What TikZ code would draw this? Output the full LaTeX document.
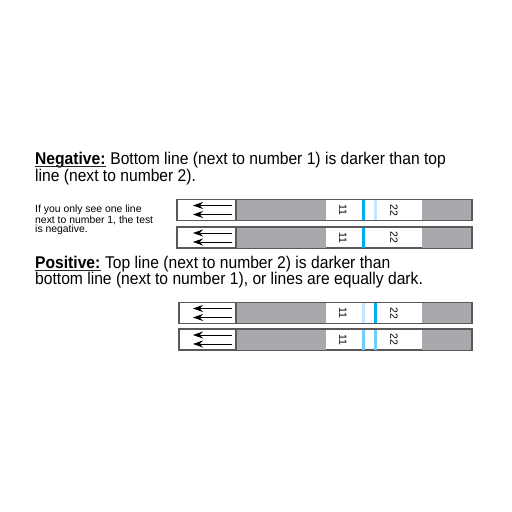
\documentclass[tikz,border=0pt]{standalone}
\usepackage{fontspec}
\setmainfont{Liberation Sans}[FakeStretch=0.92]
\newfontfamily\hintfont{Liberation Sans}
\usepackage{tikz}
\usetikzlibrary{arrows.meta}

\definecolor{stripgray}{HTML}{A7A9AC}
\definecolor{rimgray}{HTML}{58595B}
\definecolor{strongblue}{HTML}{00AEEF}
\definecolor{faintblue}{HTML}{C4E9FA}
\definecolor{mediumblue}{HTML}{6DCFF6}

\tikzset{
	heading/.style={anchor=base west,inner sep=0,font=\fontsize{17}{18}\selectfont},
	hint/.style={anchor=north west,inner sep=0,align=left,font=\hintfont\fontsize{10.4}{9.3}\selectfont},
	keyline/.style={fill=black!85},
	strip/.style={draw=rimgray,line width=1.2pt,fill=white,inner sep=0,minimum height=21pt},
	pad/.style={fill=stripgray,inner sep=0,minimum height=20pt},
	tline/.style={inner sep=0,minimum width=2.2pt,minimum height=20pt},
	digits/.style={rotate=-90,inner sep=0,font=\hintfont\fontsize{10.5}{10.5}\selectfont},
	flow/.style={line width=0.9pt,-{Stealth[length=10pt,width=7pt]}}
}

\begin{document}
\begin{tikzpicture}[x=1pt,y=-1pt]
	\useasboundingbox[fill=white] (0,0) rectangle (512,512);

	% negative result
	\node[heading] (negkey) at (35,164.5) {\textbf{Negative:}};
	\node[heading] (neg1) at (negkey.base east) {\ Bottom line (next to number 1) is darker than top};
	\node[heading] (neg2) at (35,181)   {line (next to number 2).};
	\fill[keyline] ([yshift=-1.8pt]negkey.base west) rectangle ([yshift=-2.9pt]negkey.base east);

	\node[hint] (hint) at (35,205.2) {If you only see one line\\next to number 1, the test\\is negative.};

	% positive result
	\node[heading] (poskey) at (35,268.3) {\textbf{Positive:}};
	\node[heading] (pos1) at (poskey.base east) {\ Top line (next to number 2) is darker than};
	\node[heading] (pos2) at (35,284.8) {bottom line (next to number 1), or lines are equally dark.};
	\fill[keyline] ([yshift=-1.8pt]poskey.base west) rectangle ([yshift=-2.9pt]poskey.base east);

	\foreach \n/\y/\xl/\ca/\cb in {1/210/177/strongblue/faintblue, 2/237.5/177/strongblue/none,
	                                  3/313/179/faintblue/strongblue, 4/339.5/179/mediumblue/mediumblue}{
		\node[strip,minimum width=472pt-\xl pt] (s\n) at ({(472+\xl)/2},\y) {};
		\node[pad,minimum width=89pt] (gl\n) at (281.5,\y) {};
		\node[pad,minimum width=49.4pt] (gr\n) at (446.7,\y) {};
		\draw[rimgray,line width=1.8pt] (236,\y-10) -- (236,\y+10);
		\node[tline,fill=\ca] (la\n) at (363.5,\y) {};
		\node[tline,fill=\cb] (lb\n) at (375.5,\y) {};
		\node[digits] (one\n) at (343,\y) {11};
		\node[digits] (two\n) at (394,\y) {22};
		\coordinate (ta\n) at (232,\y-4.5);
		\coordinate (ha\n) at (193,\y-4.5);
		\coordinate (tb\n) at (232,\y+4.5);
		\coordinate (hb\n) at (193,\y+4.5);
		\draw[flow] (ta\n) -- (ha\n);
		\draw[flow] (tb\n) -- (hb\n);
	}
\end{tikzpicture}
\end{document}
